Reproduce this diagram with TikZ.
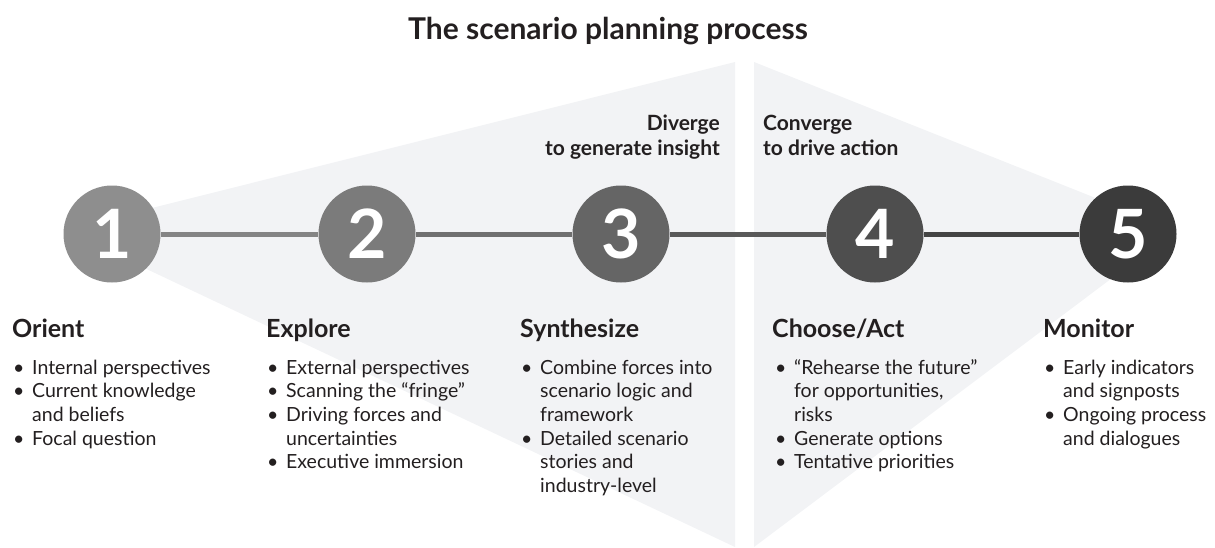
\documentclass[tikz,border=0pt]{standalone}
\usepackage{fontspec}
\setmainfont{Lato}
\definecolor{txt}{HTML}{231F20}
\definecolor{tri}{HTML}{F2F3F5}
\definecolor{cA}{HTML}{8E8E8E}
\definecolor{cB}{HTML}{7B7B7B}
\definecolor{cC}{HTML}{656565}
\definecolor{cD}{HTML}{4E4E4E}
\definecolor{cE}{HTML}{3B3B3B}
\newcommand\bul{\makebox[20pt][l]{\hspace{1pt}•}}
\newcommand\cont{\hspace*{20pt}}
\tikzset{
  stepcircle/.style={circle, minimum size=97pt, inner sep=0pt, text=white,
    font=\fontsize{68}{68}\selectfont\bfseries},
  link/.style={line width=5pt},
  heading/.style={anchor=base west, inner sep=0pt, text=txt,
    font=\fontsize{25}{30}\selectfont\bfseries},
  items/.style={anchor=base west, inner sep=0pt, text=txt,
    font=\fontsize{19.5}{23.7}\selectfont},
  phase/.style={inner sep=0pt, text=txt, font=\fontsize{21}{25}\selectfont\bfseries}
}
\begin{document}
\begin{tikzpicture}[x=1pt,y=-1pt]
\useasboundingbox (0,0) rectangle (1215,547);
% diverge / converge wedges
\fill[tri] (64,230) -- (735,62) -- (735,547) -- cycle;
\fill[tri] (1176,230) -- (754,62) -- (754,547) -- cycle;
% title
\node[inner sep=0pt, anchor=base, text=txt, font=\fontsize{30}{36}\selectfont\bfseries]
  (title) at (608,39) {The scenario planning process};
% phase labels
\node[phase, anchor=base east, align=right] (div) at (720,155)
  {Diverge\\to generate insight};
\node[phase, anchor=base west, align=left] (conv) at (763,155)
  {Converge\\to drive action};
% circles
\node[stepcircle, fill=cA] (c1) at (112,234) {1};
\node[stepcircle, fill=cB] (c2) at (367,234) {2};
\node[stepcircle, fill=cC] (c3) at (621,234) {3};
\node[stepcircle, fill=cD] (c4) at (875,234) {4};
\node[stepcircle, fill=cE] (c5) at (1128,234) {5};
\draw[link, color=cA!50!cB] (c1) -- (c2);
\draw[link, color=cB!50!cC] (c2) -- (c3);
\draw[link, color=cC!50!cD] (c3) -- (c4);
\draw[link, color=cD!50!cE] (c4) -- (c5);
% headings
\node[heading] (h1) at (12,337) {Orient};
\node[heading] (h2) at (266,337) {Explore};
\node[heading] (h3) at (520,337) {Synthesize};
\node[heading] (h4) at (772,337) {Choose/Act};
\node[heading] (h5) at (1043,337) {Monitor};
% bullet lists
\node[items] (l1) at (12,374) {\begin{tabular}[t]{@{}l@{}}
\bul Internal perspectives\\
\bul Current knowledge\\
\cont and beliefs\\
\bul Focal question
\end{tabular}};
\node[items] (l2) at (266,374) {\begin{tabular}[t]{@{}l@{}}
\bul External perspectives\\
\bul Scanning the “fringe”\\
\bul Driving forces and\\
\cont uncertainties\\
\bul Executive immersion
\end{tabular}};
\node[items] (l3) at (520,374) {\begin{tabular}[t]{@{}l@{}}
\bul Combine forces into\\
\cont scenario logic and\\
\cont framework\\
\bul Detailed scenario\\
\cont stories and\\
\cont industry-level
\end{tabular}};
\node[items] (l4) at (774,374) {\begin{tabular}[t]{@{}l@{}}
\bul “Rehearse the future”\\
\cont for opportunities,\\
\cont risks\\
\bul Generate options\\
\bul Tentative priorities
\end{tabular}};
\node[items] (l5) at (1043,374) {\begin{tabular}[t]{@{}l@{}}
\bul Early indicators\\
\cont and signposts\\
\bul Ongoing process\\
\cont and dialogues
\end{tabular}};
\end{tikzpicture}
\end{document}
